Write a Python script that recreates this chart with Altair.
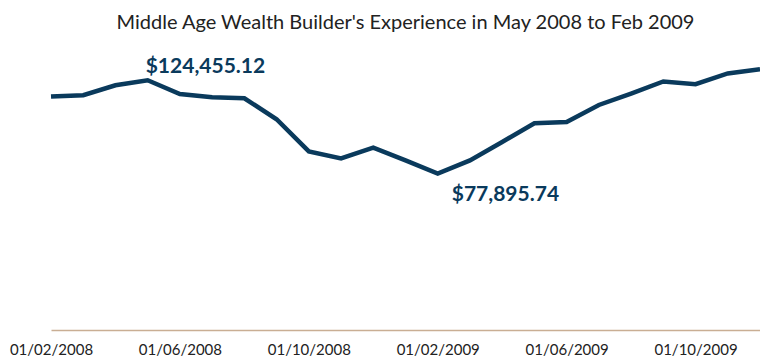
import altair as alt
import pandas as pd

dates = [
    "01/02/2008", "01/03/2008", "01/04/2008", "01/05/2008", "01/06/2008",
    "01/07/2008", "01/08/2008", "01/09/2008", "01/10/2008", "01/11/2008",
    "01/12/2008", "01/01/2009", "01/02/2009", "01/03/2009", "01/04/2009",
    "01/05/2009", "01/06/2009", "01/07/2009", "01/08/2009", "01/09/2009",
    "01/10/2009", "01/11/2009", "01/12/2009",
]
values = [
    116300, 116950, 121950, 124455.12, 117600,
    115950, 115450, 104990, 89000, 85500,
    90850, 84500, 77895.74, 84500, 93650,
    103000, 103650, 112100, 117800, 123800,
    122450, 127800, 129950,
]
labels = ["", "", "", "$124,455.12", "", "", "", "", "", "", "", "",
          "$77,895.74", "", "", "", "", "", "", "", "", "", ""]
tick_labels = ["01/02/2008", "01/06/2008", "01/10/2008",
               "01/02/2009", "01/06/2009", "01/10/2009"]

df = pd.DataFrame({"date": dates, "value": values, "label": labels})

NAVY = "#0a3a5c"
FONT = "Lato"

x = alt.X(
    "date:O", sort=None,
    scale=alt.Scale(type="point", padding=0),
    axis=alt.Axis(
        values=tick_labels, labelAngle=0, ticks=False, grid=False, title=None,
        domainColor="#c9ae94", domainWidth=1.5,
        labelFont=FONT, labelFontSize=15, labelColor="#222222",
        labelPadding=12,
    ),
)
y = alt.Y("value:Q", scale=alt.Scale(domain=[0, 140000], nice=False, zero=True), axis=None)

line = alt.Chart(df).mark_line(color=NAVY, strokeWidth=4.5, strokeJoin="miter").encode(x=x, y=y)

peak = alt.Chart(df).transform_filter(alt.datum.label == "$124,455.12").mark_text(
    align="left", baseline="alphabetic", dx=-2, dy=-7,
    font=FONT, fontSize=21, fontWeight="bold", color=NAVY,
).encode(x=x, y=y, text="label:N")

trough = alt.Chart(df).transform_filter(alt.datum.label == "$77,895.74").mark_text(
    align="left", baseline="alphabetic", dx=14, dy=27,
    font=FONT, fontSize=21, fontWeight="bold", color=NAVY,
).encode(x=x, y=y, text="label:N")

chart = alt.layer(line, peak, trough).properties(
    width=709, height=281,
    title=alt.TitleParams(
        "Middle Age Wealth Builder's Experience in May 2008 to Feb 2009",
        font=FONT, fontSize=20, fontWeight="normal", color="#222222",
        anchor="middle", baseline="alphabetic", offset=0,
    ),
    autosize=alt.AutoSizeParams(type="none"),
    padding={"left": 43, "top": 41, "right": 0, "bottom": 30},
).configure_view(stroke=None)

chart.save("out.html", embed_options={"renderer": "svg", "actions": False})
